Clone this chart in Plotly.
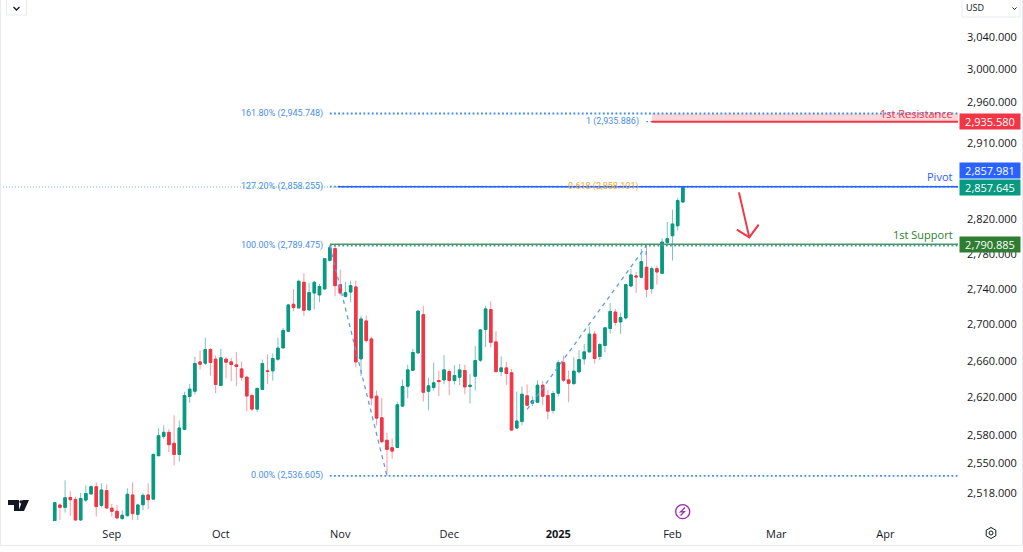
import math
import plotly.graph_objects as go

opens = [2490,2506.2,2503.8,2514,2512,2490.8,2511.3,2517.7,2525.2,2505.8,
 2521.1,2502.8,2499.7,2492.2,2495.2,2516.6,2496.6,2506.5,2516.6,2512.3,
 2557.7,2578.2,2582.5,2570.8,2559.1,2585.7,2621,2626.7,2658.7,2657.3,
 2672.3,2661.7,2632.9,2661.7,2658.7,2655.4,2651,2642,2622,2607.4,
 2628.6,2648.9,2648.9,2661.7,2674.1,2692.5,2722.7,2718.6,2747.5,2716.3,
 2735.4,2733.2,2740,2772.5,2785.9,2744.8,2731.6,2736.5,2742.2,2662,
 2704,2684,2621.3,2598,2574,2566.1,2566.4,2610.6,2632.2,2649.5,
 2668.6,2711,2626.7,2630.7,2638.3,2639,2648.1,2638.3,2642,2649.2,
 2631.8,2643,2660.6,2694.4,2716.8,2680.7,2648.1,2652.1,2646.7,2587.1,
 2594.2,2621.7,2613.8,2614.8,2633.2,2622,2606,2624.6,2657.7,2639,
 2635,2647.8,2662,2669.7,2689.3,2664.6,2676.7,2695.6,2713.9,2702.9,
 2707.4,2743.3,2754.7,2753.1,2764.6,2740.3,2763,2757.7,2793,2800.8,
 2812.4,2840]
highs = [2509.5,2507.9,2531.9,2520.4,2514.8,2518.7,2526.6,2526.6,2529.8,2528.7,
 2527.3,2507.2,2506.2,2500.7,2523.5,2529.8,2507.6,2518.4,2528.7,2559.8,
 2586.7,2589.9,2586,2600.6,2595.2,2626,2634.7,2664.2,2671.2,2685.5,
 2673.8,2665.7,2673,2663.5,2663.1,2669.7,2659.1,2642.5,2624.2,2631.1,
 2661.3,2666.8,2667.9,2685.2,2696.3,2722.7,2740,2750.5,2758,2746.7,
 2748.6,2745.6,2775.2,2789.5,2789.7,2761.9,2747.9,2749.4,2749.4,2709.9,
 2709.9,2686.6,2627.5,2619.1,2581.9,2576.1,2615.2,2639.4,2655.7,2673,
 2715.7,2721,2641.2,2657.7,2648.8,2666,2651,2655.4,2656.4,2655.4,
 2645.6,2676.2,2695,2721,2725.9,2692.6,2664.9,2658.7,2651,2626.3,
 2631.8,2634,2621.3,2638.7,2638,2628.2,2627.1,2660.6,2665.7,2649.2,
 2663.9,2671.5,2678.5,2697.8,2692.9,2679.6,2697,2724,2717.2,2713.1,
 2745.6,2762.7,2758.9,2785.5,2788.5,2765.7,2766.5,2798,2816.7,2831,
 2845,2858]
lows = [2488,2490.8,2498.3,2494.9,2489.8,2489.8,2509.3,2517,2494.2,2503.8,
 2502.4,2494.2,2491.5,2490.8,2494.5,2490.8,2490.8,2500.7,2501.8,2512,
 2557.3,2575.4,2561.6,2547.5,2551.7,2585,2614.1,2623.1,2650.3,2655.1,
 2643.8,2624.6,2632.2,2640.9,2637.6,2632.2,2638.3,2605.2,2605.2,2604.5,
 2627.8,2634.4,2638.3,2659.5,2673.4,2692.2,2714.9,2717.9,2709.6,2716,
 2717,2725,2739.2,2771.4,2731.6,2732.8,2730.5,2724.9,2652.9,2643,
 2679.6,2611.3,2589.9,2571.4,2536.6,2554.5,2565.7,2609.9,2619.1,2648.8,
 2667.9,2615.6,2606,2627.5,2621.3,2634.3,2622.4,2634,2633.3,2623.4,
 2613.4,2627.5,2658.4,2675.1,2674.9,2646.7,2643,2633.6,2584,2586.7,
 2590.2,2610.6,2610.6,2614.8,2611.6,2596.3,2602.7,2621.3,2636.5,2614.8,
 2633.2,2646,2655.7,2669,2657,2660.6,2669.4,2690,2699,2689.6,
 2705.5,2742,2735.4,2752,2730.5,2734.7,2744.8,2757,2790.5,2772.2,
 2807,2840]
closes = [2508.6,2503.8,2513.7,2511.7,2490.8,2513,2518,2525.2,2504.5,2521.8,
 2503.1,2499.7,2492.9,2495.6,2517.3,2497.3,2506.2,2516.2,2511.7,2559.1,
 2578.9,2582.5,2569.4,2559.1,2587.1,2622,2628.9,2656.9,2656.2,2672.3,
 2658,2634,2663.1,2658.4,2655.8,2653.6,2642,2621.6,2607.4,2629.6,
 2656.9,2648.1,2662.4,2673.8,2693.3,2721.9,2719,2748.6,2716,2735.8,
 2747.5,2742.6,2774.4,2787,2743.7,2735.4,2735.7,2743.7,2658.7,2706.2,
 2682.2,2619.5,2597.7,2572.5,2564.4,2562.6,2612,2631.8,2649.9,2669,
 2715,2625.6,2632.5,2635.8,2637.2,2649.9,2638.3,2643.8,2649.9,2631.4,
 2633.2,2660.2,2694,2717.5,2680.3,2648.1,2652.1,2646,2584.9,2594.5,
 2623.4,2611.6,2616.3,2633.2,2621.3,2605.2,2624.2,2657.7,2638.7,2635.4,
 2648.5,2661.3,2669.7,2689.3,2662.4,2677.8,2696.3,2714.6,2702.4,2707.7,
 2744.8,2755.8,2753.5,2771,2739.6,2763,2759.2,2793.5,2797.4,2814.4,
 2841.8,2857.6]
assert len(opens) == len(highs) == len(lows) == len(closes) == 122

bar_index = list(range(len(opens)))

month_labels = ["Sep", "Oct", "Nov", "Dec", "<b>2025</b>", "Feb", "Mar", "Apr"]
month_positions = [11, 32, 55, 76, 97, 119, 139, 160]
price_ticks = [3040, 3000, 2960, 2910, 2820, 2780, 2740, 2700, 2660, 2620, 2580, 2550, 2518]

view_x = [-10.54, 174]
view_y = [2489.7, 3087.0]

fib_levels = [2945.748, 2858.255, 2789.475, 2536.605]
fib_names = ["161.80% (2,945.748)", "127.20% (2,858.255)", "100.00% (2,789.475)", "0.00% (2,536.605)"]
fib_start = 53

ext_one = 2935.886
ext_618 = 2858.101
ext_start = 114

resistance = 2935.58
pivot = 2857.981
last_price = 2857.645
support = 2790.885

leg_a_x = [53, 64]
leg_a_y = [2789.475, 2536.605]
leg_b_x = [91, 114, 113.9]
leg_b_y = [2607, 2789.475, 2776]

arrow_x = [131.8, 133.8, None, 131.4, 133.8, 135.6]
arrow_y = [2851.4, 2798.9, None, 2807.8, 2798.9, 2813.6]

FONT = "Open Sans"
SMALL_FONT = "Roboto"
W, H = 1023, 552
ML, MR, MT, MB = 0, 65, 0, 31
PW, PH = W - ML - MR, H - MT - MB
UP, DOWN = "#089981", "#f23645"
BLUE_TXT = "#4a90e8"


def px(x):
    return x / PW


def py(y):
    return 1 - y / PH


fig = go.Figure()

# wicks (pale), then solid bodies over them
fig.add_trace(go.Candlestick(
    x=bar_index, open=opens, high=highs, low=lows, close=closes,
    increasing=dict(line=dict(color="rgba(8,153,129,0.55)", width=1), fillcolor="rgba(8,153,129,0.55)"),
    decreasing=dict(line=dict(color="rgba(242,54,69,0.5)", width=1), fillcolor="rgba(242,54,69,0.5)"),
    hoverinfo="skip"))
fig.add_trace(go.Candlestick(
    x=bar_index, open=opens, close=closes,
    high=[max(o, c) for o, c in zip(opens, closes)],
    low=[min(o, c) for o, c in zip(opens, closes)],
    increasing=dict(line=dict(color=UP, width=1), fillcolor=UP),
    decreasing=dict(line=dict(color=DOWN, width=1), fillcolor=DOWN),
    hoverinfo="skip"))


def line(xs, ys, color, width=1.0, dash="solid", opacity=1.0):
    fig.add_trace(go.Scatter(x=xs, y=ys, mode="lines", hoverinfo="skip", opacity=opacity,
                             line=dict(color=color, width=width, dash=dash)))


# shaded resistance band
fig.add_trace(go.Scatter(x=[ext_start + 1, view_x[1], view_x[1], ext_start + 1],
                         y=[fib_levels[0], fib_levels[0], ext_one, ext_one],
                         mode="lines", fill="toself", fillcolor="rgba(242,54,69,0.2)",
                         line=dict(width=0), hoverinfo="skip"))

line(view_x, [last_price, last_price], UP, 1, "1px,2px", 0.6)
line(leg_a_x, leg_a_y, "#5b9cf6", 1.3, "4px,4px")
line(leg_b_x, leg_b_y, "#5b9cf6", 1.3, "4px,4px")
for lvl in fib_levels:
    line([fib_start, view_x[1]], [lvl, lvl], "#3f8cf0", 1.8, "1.8px,2.4px")
line([ext_start, view_x[1]], [ext_one, ext_one], "#3f8cf0", 1.2, "1.5px,2.5px")
line([ext_start + 1, view_x[1]], [resistance, resistance], DOWN, 2)
line([54.5, view_x[1]], [pivot, pivot], "#2962ff", 1.3)
line([fib_start, view_x[1]], [support, support], "#4a9a58", 1.6)
line(arrow_x, arrow_y, DOWN, 2)

ann = []


def label(text, x, y, color, size=9, anchor="right", yshift=0, family=SMALL_FONT):
    ann.append(dict(text=text, xref="paper", yref="y", x=px(x), y=math.log10(y), xanchor=anchor,
                    yanchor="middle", showarrow=False, yshift=yshift,
                    font=dict(family=family, size=size, color=color)))


for name, lvl in zip(fib_names, fib_levels):
    label(name, 325, lvl, BLUE_TXT)
label("1 (2,935.886)", 641, ext_one, BLUE_TXT)
label("0.618 (2,858.101)", 641, ext_618, "#efab32")
label("1st Resistance", 955, resistance, DOWN, 11, yshift=8, family=FONT)
label("Pivot", 955, pivot, "#2962ff", 11, yshift=10, family=FONT)
label("1st Support", 955, support, "#2e7d32", 11, yshift=10, family=FONT)


def tag(value, color, yshift=0):
    ann.append(dict(text=f"{value:,.3f}", xref="paper", yref="y", x=px(958.5), y=math.log10(value),
                    xanchor="left", yanchor="middle", yshift=yshift, showarrow=False,
                    width=60, height=15, bgcolor=color, borderpad=0, align="center",
                    font=dict(family=FONT, size=11, color="white")))


tag(resistance, "#f23645")
tag(pivot, "#2962ff", yshift=16)
tag(last_price, "#089981")
tag(support, "#2e7d32")

# interface furniture
ann.append(dict(text="USD", xref="paper", yref="paper", x=px(964), y=py(8), xanchor="left", yanchor="middle",
                showarrow=False, font=dict(family=FONT, size=9, color="#131722")))

shapes = []


def box(x0, y0, x1, y1, color="#e8eaf0", fill=None, width=1):
    shapes.append(dict(type="rect", xref="paper", yref="paper", x0=px(x0), x1=px(x1), y0=py(y0), y1=py(y1),
                       line=dict(color=color, width=width), fillcolor=fill, layer="above"))


def path(points, color="#131722", width=1.2, fill=None, closed=False):
    d = "M " + " L ".join(f"{px(a):.5f},{py(b):.5f}" for a, b in points) + (" Z" if closed else "")
    shapes.append(dict(type="path", xref="paper", yref="paper", path=d, layer="above", fillcolor=fill,
                       line=dict(color=color, width=width)))


box(6.5, -3, 26.5, 15)
path([(13.5, 7), (16.5, 10), (19.5, 7)], width=1.3)
box(962, -3, 1020, 17)
path([(1012.5, 7.5), (1014.5, 9.5), (1016.5, 7.5)], width=1)
box(0.5, -3, 1022.5, 545.5)

# TradingView-style mark
path([(8, 500), (19, 500), (19, 511), (14, 511), (14, 505), (8, 505)], "#131722", 0, "#131722", True)
path([(22.5, 500), (29, 500), (24, 511), (18.5, 511)], "#131722", 0, "#131722", True)
shapes.append(dict(type="circle", xref="paper", yref="paper", x0=px(19.4), x1=px(22.6), y0=py(500.2), y1=py(503.4),
                   fillcolor="#131722", line=dict(width=0), layer="above"))

# event marker
shapes.append(dict(type="circle", xref="paper", yref="paper", x0=px(675.7), x1=px(689.7), y0=py(504.7), y1=py(518.7),
                   fillcolor="white", line=dict(color="#9c27b0", width=1.3), layer="above"))
path([(685, 507.5), (680.5, 512), (684.5, 511.5), (680.5, 515.5)], "#9c27b0", 1.2)

# settings icon
path([(991, 527.5), (995.8, 530.2), (995.8, 535.8), (991, 538.5), (986.2, 535.8), (986.2, 530.2)],
     "#131722", 1, None, True)
shapes.append(dict(type="circle", xref="paper", yref="paper", x0=px(989), x1=px(993), y0=py(531), y1=py(535),
                   line=dict(color="#131722", width=1), layer="above"))

fig.update_layout(
    width=W, height=H, margin=dict(l=ML, r=MR, t=MT, b=MB, autoexpand=False),
    paper_bgcolor="white", plot_bgcolor="white", showlegend=False, boxmode="overlay",
    font=dict(family=FONT, size=11, color="#131722"),
    annotations=ann, shapes=shapes, dragmode=False,
    xaxis=dict(range=view_x, rangeslider=dict(visible=False), showgrid=False, zeroline=False, showline=False,
               tickmode="array", tickvals=month_positions, ticktext=month_labels, ticks="",
               tickangle=0, ticklabelstandoff=5, tickfont=dict(family=FONT, size=11, color="#131722")),
    yaxis=dict(type="log", range=[math.log10(view_y[0]), math.log10(view_y[1])], side="right", showgrid=False,
               zeroline=False, showline=False, tickmode="array", tickvals=price_ticks,
               ticktext=[f"{t:,.3f}" for t in price_ticks], ticks="", ticklabelstandoff=8,
               tickfont=dict(family=FONT, size=11, color="#131722")),
)

fig.write_html("out.html", config=dict(displayModeBar=False, staticPlot=True),
               post_script="document.body.style.margin='0';document.documentElement.style.overflow='hidden';")
